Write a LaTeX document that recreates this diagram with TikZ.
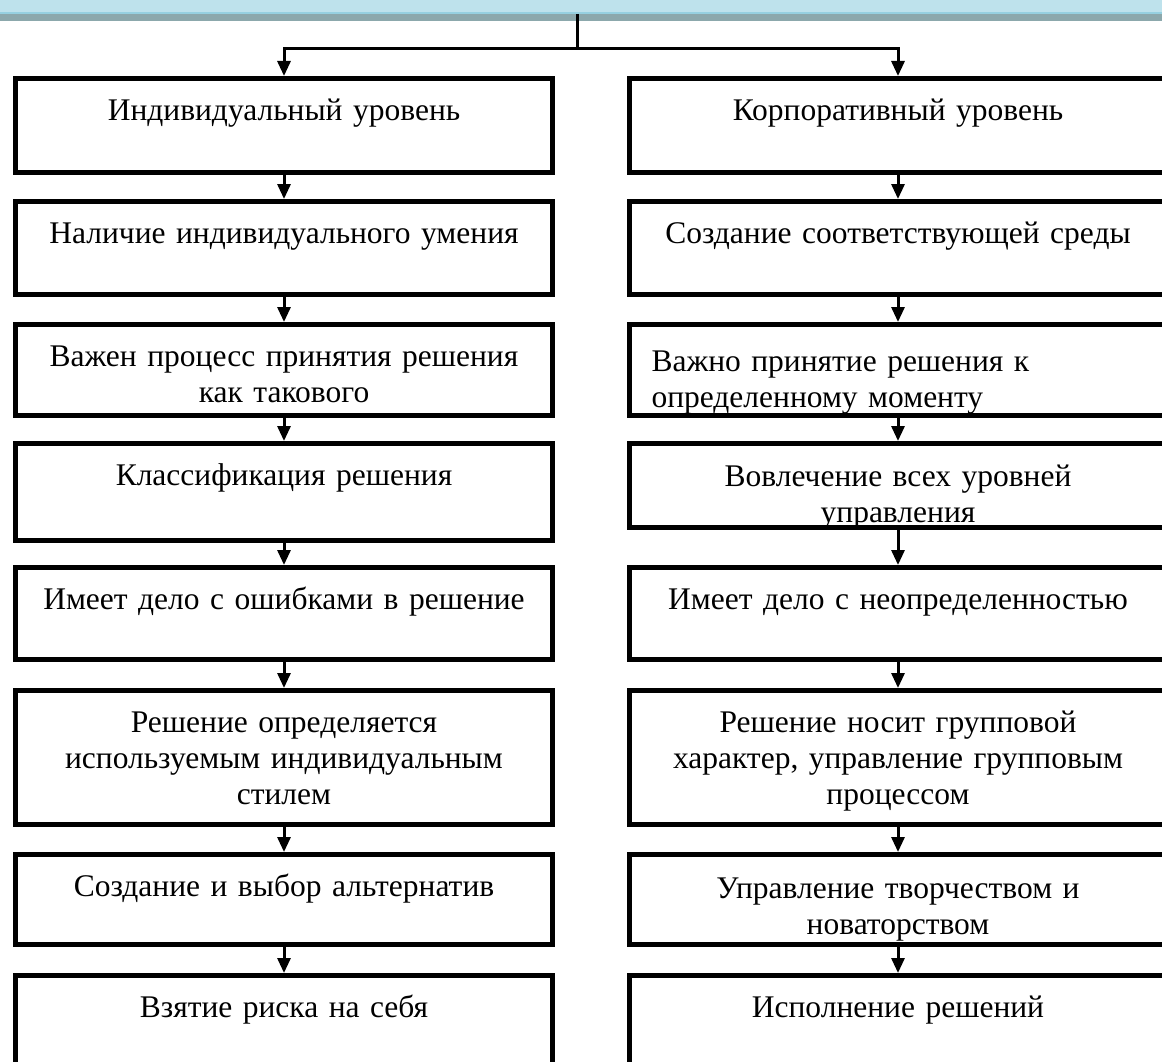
\documentclass[tikz,border=0pt]{standalone}
\usepackage{fontspec}
\setmainfont{Liberation Serif}
\usetikzlibrary{arrows.meta}
\definecolor{bandtop}{RGB}{190,226,236}
\definecolor{bandline}{RGB}{150,208,224}
\definecolor{bandlow}{RGB}{140,168,172}

\begin{document}
\begin{tikzpicture}
[x=1pt,y=-1pt,>={Triangle[length=15pt,width=13pt]},
blok/.style={draw,line width=5pt,anchor=north,inner sep=0pt,text width=537pt,align=center,text height=42pt,font=\fontsize{31.5}{36}\selectfont},
link/.style={line width=3pt},]

%Column centres
\def\xl{284}
\def\xr{898}

\useasboundingbox (0,0) rectangle (1162,1062);

%Top band
\fill[bandtop] (0,0) rectangle (1162,12);
\fill[bandline] (0,12) rectangle (1162,14);
\fill[bandlow] (0,14) rectangle (1162,21);

%Left column
\node (l1) at (\xl,76)[blok,text depth=52pt] {Индивидуальный уровень};
\node (l2) at (\xl,199)[blok,text depth=51pt] {Наличие индивидуального умения};
\node (l3) at (\xl,322)[blok,text depth=49pt] {Важен процесс принятия решения\\как такового};
\node (l4) at (\xl,441)[blok,text depth=55pt] {Классификация решения};
\node (l5) at (\xl,565)[blok,text depth=50pt] {Имеет дело с ошибками в решение};
\node (l6) at (\xl,688)[blok,text depth=92pt] {Решение определяется\\используемым индивидуальным\\стилем};
\node (l7) at (\xl,852)[blok,text depth=48pt] {Создание и выбор альтернатив};
\node (l8) at (\xl,973)[blok,text depth=95pt] {Взятие риска на себя};

%Right column
\node (r1) at (\xr,76)[blok,text depth=52pt] {Корпоративный уровень};
\node (r2) at (\xr,199)[blok,text depth=51pt] {Создание соответствующей среды};
\node (r3) at (\xr,322)[blok,text height=47pt,text depth=44pt,align=left,text width=493pt,inner xsep=22pt] {Важно принятие решения к\\определенному моменту};
\node (r4) at (\xr,441)[blok,text height=43pt,text depth=41pt] {Вовлечение всех уровней\\управления};
\node (r5) at (\xr,565)[blok,text depth=50pt] {Имеет дело с неопределенностью};
\node (r6) at (\xr,688)[blok,text depth=92pt] {Решение носит групповой\\характер, управление групповым\\процессом};
\node (r7) at (\xr,852)[blok,text height=44pt,text depth=46pt] {Управление творчеством и\\новаторством};
\node (r8) at (\xr,973)[blok,text depth=95pt] {Исполнение решений};

%Fork from the band
\coordinate (stem) at (577,14);
\coordinate (fork) at (577,49);
\draw[link] (stem) -- (fork);
\draw[link,->] (fork) -| (l1.north);
\draw[link,->] (fork) -| (r1.north);

%Arrows down the columns
\draw[link,->] (l1) -- (l2);
\draw[link,->] (l2) -- (l3);
\draw[link,->] (l3) -- (l4);
\draw[link,->] (l4) -- (l5);
\draw[link,->] (l5) -- (l6);
\draw[link,->] (l6) -- (l7);
\draw[link,->] (l7) -- (l8);
\draw[link,->] (r1) -- (r2);
\draw[link,->] (r2) -- (r3);
\draw[link,->] (r3) -- (r4);
\draw[link,->] (r4) -- (r5);
\draw[link,->] (r5) -- (r6);
\draw[link,->] (r6) -- (r7);
\draw[link,->] (r7) -- (r8);
\end{tikzpicture}
\end{document}
